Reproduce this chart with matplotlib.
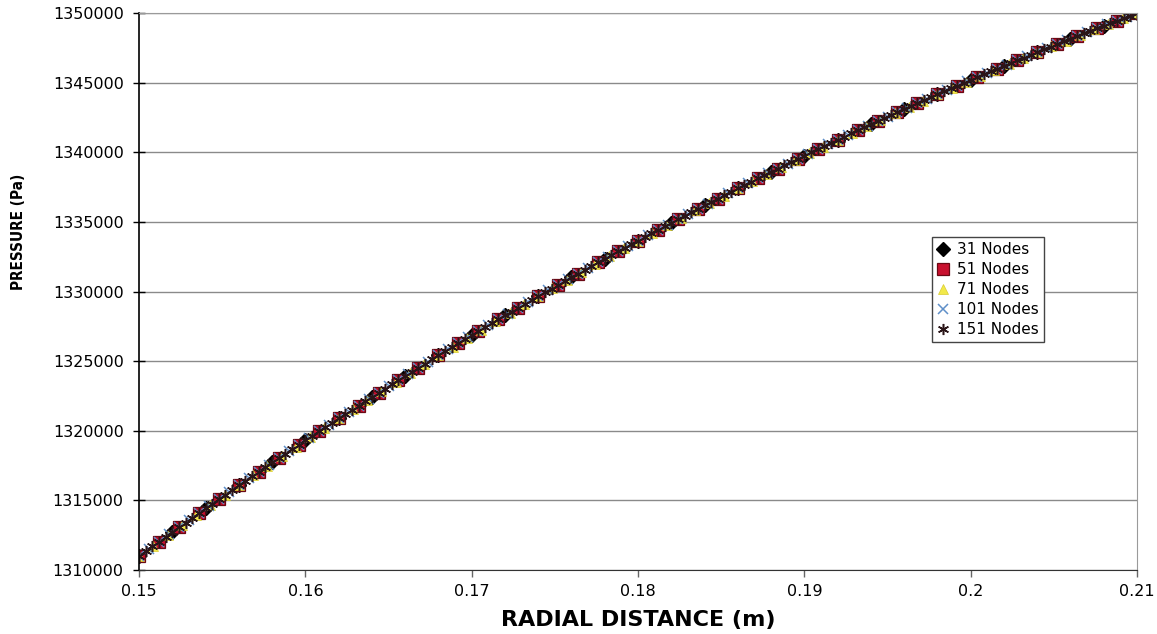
import numpy as np
import matplotlib
matplotlib.use("Agg")
import matplotlib.pyplot as plt

# pressure (Pa) at each node
p31 = [1311000, 1312730, 1314420, 1316080, 1317720, 1319320, 1320880, 1322420, 1323930, 1325410,
       1326860, 1328280, 1329660, 1331030, 1332360, 1333660, 1334940, 1336180, 1337400, 1338600,
       1339760, 1340900, 1342010, 1343100, 1344160, 1345200, 1346210, 1347190, 1348150, 1349090,
       1350000]

p51 = [1311000, 1312040, 1313070, 1314090, 1315090, 1316080, 1317070, 1318040, 1319000, 1319950,
       1320880, 1321810, 1322730, 1323630, 1324530, 1325410, 1326280, 1327140, 1327990, 1328830,
       1329660, 1330480, 1331290, 1332090, 1332880, 1333660, 1334430, 1335190, 1335940, 1336670,
       1337400, 1338120, 1338830, 1339530, 1340220, 1340900, 1341570, 1342230, 1342880, 1343530,
       1344160, 1344780, 1345400, 1346010, 1346600, 1347190, 1347770, 1348340, 1348900, 1349450,
       1350000]

p71 = [1311000, 1311740, 1312480, 1313210, 1313940, 1314660, 1315380, 1316080, 1316790, 1317480,
       1318180, 1318860, 1319540, 1320220, 1320880, 1321550, 1322210, 1322860, 1323500, 1324140,
       1324780, 1325410, 1326030, 1326650, 1327270, 1327870, 1328480, 1329070, 1329660, 1330250,
       1330830, 1331410, 1331980, 1332540, 1333110, 1333660, 1334210, 1334750, 1335290, 1335830,
       1336360, 1336880, 1337400, 1337920, 1338430, 1338930, 1339430, 1339930, 1340410, 1340900,
       1341380, 1341860, 1342330, 1342790, 1343250, 1343710, 1344160, 1344610, 1345050, 1345490,
       1345920, 1346350, 1346770, 1347190, 1347600, 1348010, 1348420, 1348820, 1349220, 1349610,
       1350000]

p101 = [1311000, 1311520, 1312040, 1312560, 1313070, 1313580, 1314090, 1314590, 1315090, 1315590,
        1316080, 1316580, 1317070, 1317550, 1318040, 1318520, 1319000, 1319470, 1319950, 1320420,
        1320880, 1321350, 1321810, 1322270, 1322730, 1323180, 1323630, 1324080, 1324530, 1324970,
        1325410, 1325850, 1326280, 1326710, 1327140, 1327570, 1327990, 1328420, 1328830, 1329250,
        1329660, 1330080, 1330480, 1330890, 1331290, 1331690, 1332090, 1332490, 1332880, 1333270,
        1333660, 1334050, 1334430, 1334810, 1335190, 1335560, 1335940, 1336310, 1336670, 1337040,
        1337400, 1337760, 1338120, 1338480, 1338830, 1339180, 1339530, 1339880, 1340220, 1340560,
        1340900, 1341240, 1341570, 1341900, 1342230, 1342560, 1342880, 1343210, 1343530, 1343840,
        1344160, 1344470, 1344780, 1345090, 1345400, 1345700, 1346010, 1346300, 1346600, 1346900,
        1347190, 1347480, 1347770, 1348060, 1348340, 1348620, 1348900, 1349180, 1349450, 1349730,
        1350000]

p151 = [1311000, 1311350, 1311690, 1312040, 1312380, 1312730, 1313070, 1313410, 1313750, 1314090,
        1314420, 1314760, 1315090, 1315420, 1315750, 1316080, 1316410, 1316740, 1317070, 1317390,
        1317720, 1318040, 1318360, 1318680, 1319000, 1319320, 1319630, 1319950, 1320260, 1320570,
        1320880, 1321200, 1321500, 1321810, 1322120, 1322420, 1322730, 1323030, 1323330, 1323630,
        1323930, 1324230, 1324530, 1324820, 1325120, 1325410, 1325700, 1325990, 1326280, 1326570,
        1326860, 1327140, 1327430, 1327710, 1327990, 1328280, 1328560, 1328830, 1329110, 1329390,
        1329660, 1329940, 1330210, 1330480, 1330760, 1331030, 1331290, 1331560, 1331830, 1332090,
        1332360, 1332620, 1332880, 1333140, 1333400, 1333660, 1333920, 1334170, 1334430, 1334680,
        1334940, 1335190, 1335440, 1335690, 1335940, 1336180, 1336430, 1336670, 1336920, 1337160,
        1337400, 1337640, 1337880, 1338120, 1338360, 1338600, 1338830, 1339060, 1339300, 1339530,
        1339760, 1339990, 1340220, 1340450, 1340670, 1340900, 1341120, 1341350, 1341570, 1341790,
        1342010, 1342230, 1342450, 1342670, 1342880, 1343100, 1343310, 1343530, 1343740, 1343950,
        1344160, 1344370, 1344580, 1344780, 1344990, 1345200, 1345400, 1345600, 1345800, 1346010,
        1346210, 1346400, 1346600, 1346800, 1347000, 1347190, 1347380, 1347580, 1347770, 1347960,
        1348150, 1348340, 1348530, 1348720, 1348900, 1349090, 1349270, 1349450, 1349640, 1349820,
        1350000]

r_inner, r_outer = 0.15, 0.21
labels = ['31 Nodes', '51 Nodes', '71 Nodes', '101 Nodes', '151 Nodes']
xticks = [0.15, 0.16, 0.17, 0.18, 0.19, 0.20, 0.21]
xticklabels = ['0.15', '0.16', '0.17', '0.18', '0.19', '0.2', '0.21']
yticks = [1310000, 1315000, 1320000, 1325000, 1330000, 1335000, 1340000, 1345000, 1350000]

plt.rcParams['font.family'] = ['DejaVu Sans']

fig = plt.figure(figsize=(11.57, 6.34), dpi=100)
ax = fig.add_axes([139/1157, 1 - 570/634, (1137 - 139)/1157, (570 - 13)/634])

# marker styles per series (Excel look)
styles = [
    dict(marker='D', ms=7, mfc='black', mec='black'),
    dict(marker='s', ms=8, mfc='#c8102e', mec='#6a0814', mew=0.9),
    dict(marker='^', ms=7, mfc='#f2e94a', mec='#d8cc30', mew=0.5),
    dict(marker='x', ms=7, mfc='none', mec='#5f8fc8', mew=1.1),
    dict(marker=(6, 2, 0), ms=8, mfc='none', mec='#2a1518', mew=1.1),
]

for p, lab, st in zip([p31, p51, p71, p101, p151], labels, styles):
    x = np.linspace(r_inner, r_outer, len(p))
    ax.plot(x, p, linestyle='none', label=lab, **st)

ax.set_xlim(r_inner, r_outer)
ax.set_ylim(yticks[0], yticks[-1])
ax.set_xticks(xticks)
ax.set_xticklabels(xticklabels)
ax.set_yticks(yticks)
ax.set_yticklabels([str(v) for v in yticks])

ax.grid(axis='y', color='#8a8a8a', linewidth=1.0)
ax.set_axisbelow(True)

for s in ['top', 'right']:
    ax.spines[s].set_color('#9a9a9a')
ax.spines['left'].set_color('black')
ax.spines['bottom'].set_color('#333333')
ax.spines['left'].set_linewidth(1.2)

ax.tick_params(axis='y', direction='inout', length=8, width=1, labelsize=11.5, pad=7)
ax.tick_params(axis='x', direction='out', length=5, width=1, color='#666666', labelsize=11.5, pad=5)

ax.set_xlabel('RADIAL DISTANCE (m)', fontsize=16, fontweight='bold', labelpad=8)
fig.text(19/1157, 1 - 232/634, 'PRESSURE (Pa)', rotation=90, ha='center', va='center',
         fontsize=11, fontweight='bold', fontstretch='condensed', family='DejaVu Sans')

leg = ax.legend(loc='upper left', bbox_to_anchor=(932/1157, 1 - 237/634),
                bbox_transform=fig.transFigure, borderaxespad=0, fancybox=False,
                edgecolor='#444444', framealpha=1, fontsize=11, handlelength=0.8,
                handletextpad=0.5, labelspacing=0.32, borderpad=0.35)
leg.get_frame().set_linewidth(1.0)

fig.savefig('out.png', dpi=100)
